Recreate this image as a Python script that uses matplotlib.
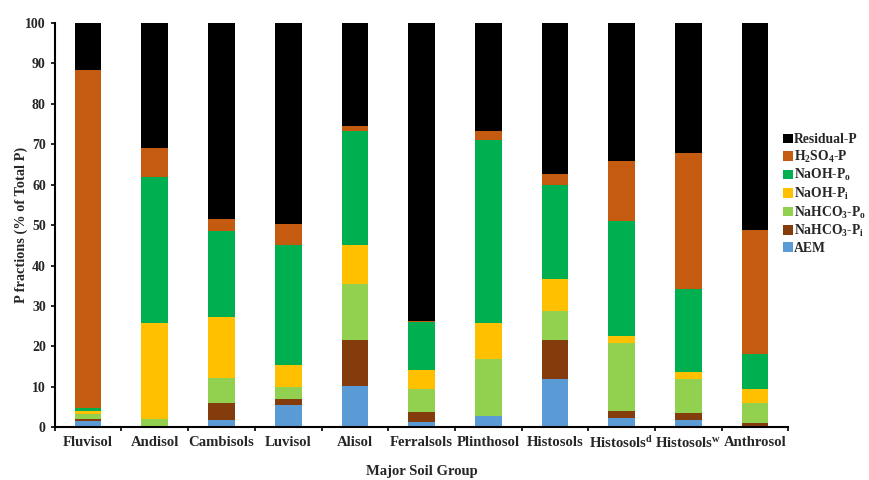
import matplotlib
matplotlib.use("Agg")
import matplotlib.pyplot as plt
import numpy as np

plt.rcParams["font.family"] = ["Liberation Serif", "DejaVu Serif"]
plt.rcParams["mathtext.default"] = "regular"

soil_groups = ["Fluvisol", "Andisol", "Cambisols", "Luvisol", "Alisol", "Ferralsols",
               "Plinthosol", "Histosols", "Histosols$^{d}$", "Histosols$^{w}$", "Anthrosol"]

# P fractions (% of total P), stacked bottom to top
aem          = [1.5, 0.0, 1.9, 5.4, 10.1, 1.3, 2.7, 11.9, 2.3, 1.7, 0.0]
nahco3_pi    = [0.6, 0.0, 4.0, 1.5, 11.4, 2.5, 0.0, 9.6, 1.7, 1.7, 1.1]
nahco3_po    = [1.1, 2.1, 6.3, 3.1, 13.9, 5.6, 14.1, 7.3, 16.9, 8.6, 4.8]
naoh_pi      = [0.8, 23.6, 15.0, 5.3, 9.8, 4.7, 9.1, 7.8, 1.7, 1.7, 3.5]
naoh_po      = [0.8, 36.3, 21.3, 29.7, 28.1, 12.0, 45.2, 23.3, 28.4, 20.5, 8.6]
h2so4_p      = [83.6, 7.1, 2.9, 5.2, 1.2, 0.3, 2.2, 2.7, 14.9, 33.7, 30.9]
residual_p   = [11.6, 30.9, 48.6, 49.8, 25.5, 73.6, 26.7, 37.4, 34.1, 32.1, 51.1]

fraction_labels = ["AEM", "NaHCO$_3$-P$_i$", "NaHCO$_3$-P$_o$", "NaOH-P$_i$",
                   "NaOH-P$_o$", "H$_2$SO$_4$-P", "Residual-P"]
fraction_colors = ["#5B9BD5", "#843C0C", "#92D050", "#FFC000",
                   "#00B050", "#C55A11", "#000000"]
fractions = [aem, nahco3_pi, nahco3_po, naoh_pi, naoh_po, h2so4_p, residual_p]

fig = plt.figure(figsize=(8.7, 4.8), dpi=100)
ax = fig.add_axes([0.063, 0.110, 0.843, 0.842])

x = np.arange(len(soil_groups))
bottom = np.zeros(len(soil_groups))
handles = []
for vals, lab, col in zip(fractions, fraction_labels, fraction_colors):
    vals = np.array(vals)
    h = ax.bar(x, vals, width=0.4, bottom=bottom, color=col, label=lab,
               edgecolor="none")
    handles.append(h)
    bottom += vals

ax.set_xlim(-0.5, len(soil_groups) - 0.5)
ax.set_ylim(0, 100)
ax.set_yticks(np.arange(0, 101, 10))
ax.set_xticks(x)
ax.set_xticklabels(soil_groups, fontsize=10.6, fontweight="bold", color="#262626")
ax.set_xticks(np.arange(len(soil_groups) + 1) - 0.5, minor=True)
ax.tick_params(axis="x", which="major", length=0, pad=6)
ax.tick_params(axis="x", which="minor", length=3, width=1.2, direction="out")
ax.tick_params(axis="y", length=3, width=1.2, direction="out", labelsize=10,
               labelcolor="#262626")
for lbl in ax.get_yticklabels():
    lbl.set_fontweight("bold")

for side in ["top", "right"]:
    ax.spines[side].set_visible(False)
for side in ["left", "bottom"]:
    ax.spines[side].set_linewidth(1.5)

ax.set_ylabel("P fractions (% of Total P)", fontsize=10.3, fontweight="bold",
              color="#262626", labelpad=-2)
ax.set_xlabel("Major Soil Group", fontsize=10.5, fontweight="bold",
              color="#262626", labelpad=10)

leg = ax.legend(handles[::-1], fraction_labels[::-1], loc="upper left",
                bbox_to_anchor=(0.993, 0.727), frameon=False, fontsize=9.8,
                handlelength=0.7, handleheight=0.7, handletextpad=0.12,
                labelspacing=0.18, borderaxespad=0, borderpad=0)
for t in leg.get_texts():
    t.set_fontweight("bold")
    t.set_color("#262626")

fig.savefig("out.png", dpi=100)
